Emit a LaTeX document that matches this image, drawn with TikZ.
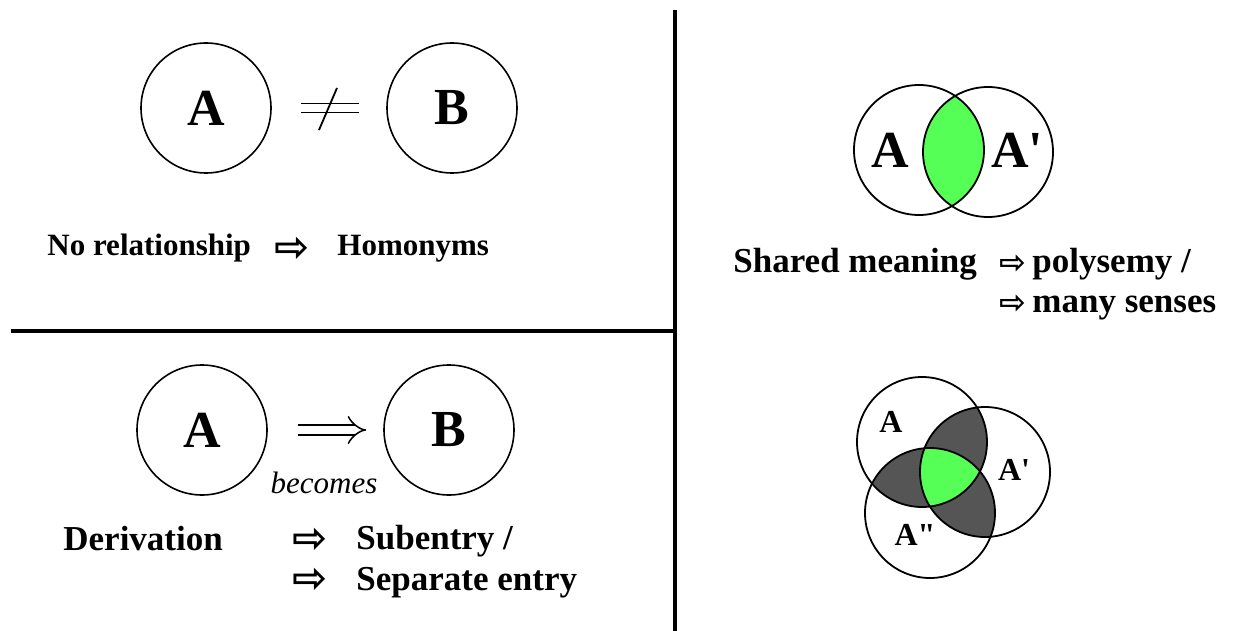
\documentclass[tikz,border=0pt]{standalone}
\usepackage{fontspec}
\setmainfont{Liberation Serif}
\newfontfamily\arrowfont{DejaVu Sans}
\usepackage{tikz}
\usetikzlibrary{arrows.meta,calc}
\definecolor{lensgreen}{RGB}{85,255,85}
\definecolor{overlapgray}{RGB}{85,85,85}
\tikzset{
  bubble/.style={draw, circle, line width=0.8pt, minimum size=65pt, inner sep=0pt},
  venn/.style={draw, circle, line width=0.9pt, minimum size=65pt, inner sep=0pt},
  biglabel/.style={font=\fontsize{26}{30}\selectfont\bfseries},
  smalllabel/.style={inner sep=0pt, font=\fontsize{16}{18}\selectfont\bfseries},
  caption/.style={anchor=base west, inner sep=0pt, font=\fontsize{17.5}{20}\selectfont\bfseries},
  pointer/.style={inner sep=0pt},
  divider/.style={line width=2pt},
  relation/.style={double, double distance=3.75pt, line width=0.75pt}
}

\begin{document}
\begin{tikzpicture}[x=0.5pt, y=-0.5pt]
  \useasboundingbox (0,0) rectangle (1237,631);
  \draw[divider] (675,10) -- (675,631);
  \draw[divider] (11,331) -- (675,331);

  % no relationship
  \node[bubble, biglabel] (a1) at (206,108) {A};
  \node[bubble, biglabel] (b1) at (452,108) {B};
  \draw[relation, shorten <=14.5pt, shorten >=13.5pt] (a1) -- (b1);
  \coordinate (neq) at ($(a1)!0.5!(b1)$);
  \draw[line width=0.9pt] (neq) ++(8,-20) -- ++(-18,42);
  \node[caption, font=\fontsize{15.5}{18}\selectfont\bfseries] (norel) at (47,255) {No relationship};
  \node[caption, font=\fontsize{15.5}{18}\selectfont\bfseries] (homo) at (337,255) {Homonyms};

  % derivation
  \node[bubble, biglabel] (a2) at (202,430) {A};
  \node[bubble, biglabel] (b2) at (449,430) {B};
  \draw[relation, double distance=4.25pt, -{Implies}, shorten <=15pt, shorten >=8.5pt] (a2) -- (b2);
  \node[anchor=base, inner sep=0pt, font=\fontsize{15.5}{18}\selectfont\itshape] (becomes) at (324,493) {becomes};
  \node[caption] (deriv) at (63,550) {Derivation};
  \node[caption] (subent) at (356,549) {Subentry /};
  \node[caption] (sepent) at (356,590) {Separate entry};

  % shared meaning
  \coordinate (s1) at (919,150);
  \coordinate (s2) at (988,152);
  \begin{scope}
    \clip (s1) circle[radius=65];
    \fill[lensgreen] (s2) circle[radius=65];
  \end{scope}
  \node[venn] (sa) at (s1) {};
  \node[venn] (sb) at (s2) {};
  \node[biglabel] (la) at (890,150) {A};
  \node[biglabel] (lb) at (1017,150) {A\textquotesingle};
  \node[caption] (shared) at (733,272) {Shared meaning};
  \node[caption] (poly) at (1032,272) {polysemy /};
  \node[caption] (senses) at (1032,312) {many senses};

  % three senses
  \coordinate (t1) at (922,442);
  \coordinate (t2) at (985,472);
  \coordinate (t3) at (930,513);
  \begin{scope}
    \clip (t1) circle[radius=65];
    \fill[overlapgray] (t2) circle[radius=65];
    \fill[overlapgray] (t3) circle[radius=65];
  \end{scope}
  \begin{scope}
    \clip (t2) circle[radius=65];
    \fill[overlapgray] (t3) circle[radius=65];
  \end{scope}
  \begin{scope}
    \clip (t1) circle[radius=65];
    \clip (t2) circle[radius=65];
    \fill[lensgreen] (t3) circle[radius=65];
  \end{scope}
  \foreach \n in {1,2,3}
    \node[venn] (tv\n) at (t\n) {};
  \node[smalllabel] (ta) at (891,422) {A};
  \node[smalllabel] (tb) at (1014,470) {A\textquotesingle};
  \node[smalllabel] (tc) at (915,535) {A\textquotedbl};

  % pointers
  \foreach \n/\x/\y/\s in {1/292/249/21, 2/310/540/21, 3/310/580/21, 4/1013/264/16, 5/1013/304/16}
    \node[pointer, font=\arrowfont\bfseries\fontsize{\s}{\s}\selectfont] (ptr\n) at (\x,\y) {⇨};
\end{tikzpicture}
\end{document}
